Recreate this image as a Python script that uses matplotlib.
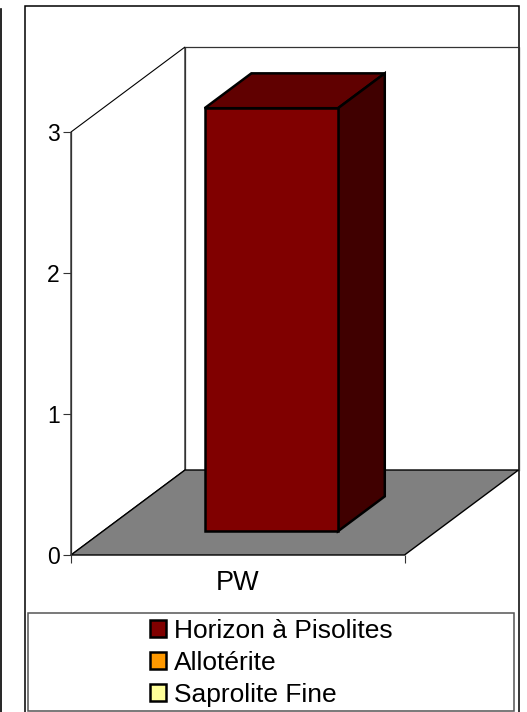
import matplotlib
matplotlib.use("Agg")
import matplotlib.pyplot as plt
from matplotlib.patches import Patch, Polygon, Rectangle
from matplotlib.lines import Line2D

plt.rcParams["font.family"] = ["Liberation Sans", "DejaVu Sans"]

# data
categories = ["PW"]
series_names = ["Horizon à Pisolites", "Allotérite", "Saprolite Fine"]
series_values = [3, 0, 0]
series_colors = ["#800000", "#FF9900", "#FFFF99"]
y_ticks = [0, 1, 2, 3]

W, H = 527, 712
fig = plt.figure(figsize=(W / 100, H / 100), dpi=100, facecolor="white")


def fig_box(left, top, right, bottom):
    """pixel box (from the top left) to figure fractions"""
    return [left / W, 1 - bottom / H, (right - left) / W, (bottom - top) / H]


# outer frames
bg = fig.add_axes([0, 0, 1, 1])
bg.set_xlim(0, W)
bg.set_ylim(H, 0)
bg.axis("off")
bg.add_line(Line2D([0.5, 0.5], [9, H], color="black", lw=1.2))
bg.add_patch(Rectangle((24.5, 5.5), 494, 720, fc="white", ec="black", lw=1.1))
bg.add_patch(Rectangle((28, 613), 486, 98, fc="white", ec="#555555", lw=1.1))

# front plane of the 3d box
ax = fig.add_axes(fig_box(71, 132, 404.5, 555))
ax.set_xlim(0, 1)
ax.set_ylim(0, max(y_ticks))
ax.patch.set_visible(False)
for side in ["top", "right", "bottom"]:
    ax.spines[side].set_visible(False)
ax.spines["left"].set_linewidth(0.9)
ax.spines["left"].set_color("#333333")
ax.set_xticks([0, 1])
ax.set_xticklabels(["", ""])
ax.set_yticks(y_ticks)
ax.tick_params(axis="y", length=6, width=0.8, labelsize=16.5, pad=2, color="#333333")
ax.tick_params(axis="x", length=6, width=0.8, color="#333333")

depth_x = 114 / 333.5
depth_y = 85 / 423 * max(y_ticks)


def proj(x, v, d):
    return (x + d * depth_x, v + d * depth_y)


def face(points, **kw):
    ax.add_patch(Polygon([proj(*p) for p in points], closed=True, clip_on=False, **kw))


top = max(y_ticks)
# floor and back walls
face([(0, 0, 0), (1, 0, 0), (1, 0, 1), (0, 0, 1)], fc="#808080", ec="black", lw=1.0, zorder=1)
face([(0, 0, 0), (0, top, 0), (0, top, 1), (0, 0, 1)], fc="white", ec="black", lw=0.8, zorder=0.5)
back = [proj(0, 0, 1), proj(0, top, 1), proj(1, top, 1), proj(1, 0, 1)]
ax.add_line(Line2D(*zip(*back), color="#333333", lw=0.9, clip_on=False, zorder=0.6))

# the bar
x0, x1 = 0.305, 0.705
d0, d1 = 0.28, 0.69
val = series_values[0]
edge = dict(ec="black", lw=1.8, joinstyle="miter")
face([(x0, val, d0), (x1, val, d0), (x1, val, d1), (x0, val, d1)], fc="#600000", zorder=3, **edge)
face([(x1, 0, d0), (x1, val, d0), (x1, val, d1), (x1, 0, d1)], fc="#400000", zorder=3, **edge)
face([(x0, 0, d0), (x1, 0, d0), (x1, val, d0), (x0, val, d0)], fc=series_colors[0], zorder=4, **edge)

ax.text(0.5, -0.2, categories[0], ha="center", va="center", fontsize=19.5, clip_on=False)

# legend
handles = [Patch(fc=c, ec="black", lw=1.8) for c in series_colors]
fig.legend(handles, series_names, loc="center", bbox_to_anchor=(271.5 / W, 1 - 663 / H),
           frameon=False, fontsize=19, handlelength=0.62, handleheight=0.62,
           handletextpad=0.3, labelspacing=0.3, borderpad=0, borderaxespad=0)

fig.savefig("out.png", dpi=100)
